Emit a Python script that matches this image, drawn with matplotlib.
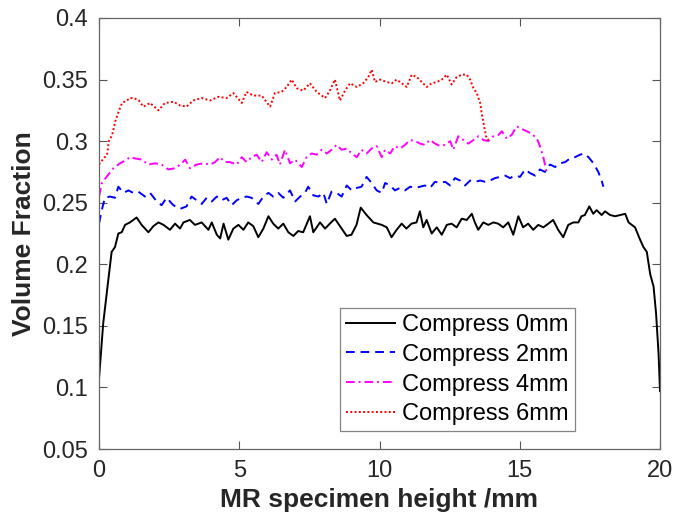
import matplotlib
matplotlib.use("Agg")
import matplotlib.pyplot as plt
from matplotlib.ticker import FuncFormatter

plt.rcParams["font.family"] = ["Liberation Sans", "DejaVu Sans"]

# Compress 0mm (solid black)
x0 = [0.0, 0.15, 0.33, 0.45, 0.57, 0.69, 0.81, 0.93, 1.10, 1.34, 1.52, 1.76, 1.94, 2.12, 2.30,
      2.53, 2.71, 2.89, 3.01, 3.24, 3.42, 3.66, 3.90, 4.02, 4.20, 4.32, 4.44, 4.61, 4.79, 4.97,
      5.15, 5.32, 5.50, 5.68, 5.86, 6.04, 6.21, 6.39, 6.57, 6.75, 6.93, 7.10, 7.28, 7.52, 7.64,
      7.88, 8.06, 8.23, 8.41, 8.59, 8.83, 9.00, 9.18, 9.33, 9.54, 9.78, 10.08, 10.26, 10.43,
      10.61, 10.79, 10.96, 11.14, 11.32, 11.44, 11.56, 11.68, 11.86, 12.04, 12.22, 12.40, 12.57,
      12.75, 12.93, 13.11, 13.29, 13.40, 13.52, 13.70, 13.88, 14.06, 14.23, 14.41, 14.59, 14.77,
      14.95, 15.12, 15.30, 15.48, 15.66, 15.84, 16.02, 16.19, 16.37, 16.55, 16.73, 16.91, 17.09,
      17.20, 17.32, 17.48, 17.62, 17.74, 17.92, 18.04, 18.22, 18.40, 18.58, 18.76, 18.88, 19.11,
      19.29, 19.41, 19.53, 19.65, 19.77, 19.86, 19.95, 20.00]
y0 = [0.107, 0.152, 0.187, 0.210, 0.214, 0.225, 0.226, 0.232, 0.234, 0.238, 0.232, 0.226, 0.231,
      0.234, 0.232, 0.228, 0.233, 0.229, 0.234, 0.236, 0.232, 0.234, 0.228, 0.234, 0.224, 0.221,
      0.233, 0.220, 0.229, 0.232, 0.228, 0.234, 0.231, 0.222, 0.229, 0.239, 0.233, 0.229, 0.233,
      0.226, 0.223, 0.227, 0.226, 0.239, 0.226, 0.234, 0.229, 0.233, 0.237, 0.231, 0.223, 0.224,
      0.232, 0.246, 0.240, 0.234, 0.232, 0.230, 0.222, 0.228, 0.233, 0.229, 0.233, 0.234, 0.243,
      0.230, 0.236, 0.225, 0.230, 0.224, 0.232, 0.233, 0.230, 0.237, 0.236, 0.241, 0.234, 0.228,
      0.234, 0.232, 0.234, 0.233, 0.230, 0.234, 0.224, 0.239, 0.230, 0.233, 0.228, 0.232, 0.230,
      0.233, 0.236, 0.228, 0.222, 0.232, 0.234, 0.234, 0.239, 0.240, 0.247, 0.241, 0.244, 0.240,
      0.243, 0.240, 0.239, 0.240, 0.241, 0.234, 0.230, 0.220, 0.214, 0.210, 0.192, 0.182, 0.160,
      0.127, 0.097]

# Compress 2mm (dashed blue)
x2 = [0.0, 0.10, 0.21, 0.39, 0.57, 0.69, 0.87, 1.05, 1.22, 1.40, 1.64, 1.82, 2.06, 2.23, 2.41,
      2.65, 2.89, 3.12, 3.30, 3.48, 3.66, 3.84, 4.02, 4.20, 4.37, 4.55, 4.73, 4.91, 5.09, 5.26,
      5.44, 5.68, 5.86, 6.04, 6.21, 6.39, 6.57, 6.81, 6.99, 7.17, 7.34, 7.46, 7.64, 7.82, 8.00,
      8.12, 8.29, 8.47, 8.65, 8.83, 9.01, 9.19, 9.36, 9.54, 9.72, 9.90, 10.08, 10.20, 10.38,
      10.55, 10.73, 10.91, 11.09, 11.27, 11.45, 11.62, 11.80, 11.98, 12.16, 12.34, 12.52, 12.69,
      12.87, 13.05, 13.23, 13.41, 13.59, 13.76, 13.94, 14.12, 14.30, 14.48, 14.65, 14.83, 15.01,
      15.19, 15.37, 15.55, 15.72, 15.90, 16.08, 16.26, 16.44, 16.62, 16.79, 16.97, 17.15, 17.29,
      17.45, 17.63, 17.80, 17.92, 17.98]
y2 = [0.233, 0.244, 0.254, 0.255, 0.254, 0.263, 0.258, 0.260, 0.258, 0.259, 0.255, 0.258, 0.251,
      0.248, 0.254, 0.248, 0.245, 0.247, 0.255, 0.252, 0.249, 0.254, 0.251, 0.255, 0.252, 0.254,
      0.248, 0.252, 0.254, 0.255, 0.254, 0.249, 0.255, 0.258, 0.255, 0.258, 0.254, 0.260, 0.251,
      0.255, 0.258, 0.263, 0.256, 0.255, 0.258, 0.249, 0.259, 0.258, 0.255, 0.264, 0.260, 0.262,
      0.263, 0.271, 0.266, 0.260, 0.258, 0.266, 0.264, 0.260, 0.262, 0.260, 0.263, 0.262, 0.263,
      0.264, 0.262, 0.267, 0.266, 0.267, 0.264, 0.270, 0.268, 0.264, 0.268, 0.267, 0.268, 0.267,
      0.268, 0.270, 0.271, 0.272, 0.270, 0.272, 0.271, 0.277, 0.274, 0.272, 0.277, 0.275, 0.281,
      0.279, 0.282, 0.283, 0.286, 0.287, 0.289, 0.290, 0.287, 0.282, 0.275, 0.268, 0.263]

# Compress 4mm (dash-dot magenta)
x4 = [0.0, 0.10, 0.27, 0.51, 0.75, 0.99, 1.10, 1.28, 1.52, 1.76, 2.00, 2.23, 2.47, 2.71, 2.95,
      3.07, 3.24, 3.48, 3.72, 3.96, 4.14, 4.31, 4.49, 4.67, 4.91, 5.09, 5.26, 5.44, 5.62, 5.80,
      5.98, 6.16, 6.33, 6.45, 6.63, 6.81, 6.99, 7.23, 7.40, 7.58, 7.76, 7.94, 8.12, 8.29, 8.47,
      8.65, 8.83, 9.01, 9.19, 9.36, 9.54, 9.72, 9.90, 10.08, 10.20, 10.38, 10.55, 10.73, 10.91,
      11.09, 11.27, 11.45, 11.62, 11.80, 11.98, 12.16, 12.34, 12.52, 12.63, 12.81, 12.99, 13.17,
      13.35, 13.53, 13.70, 13.88, 14.06, 14.24, 14.36, 14.54, 14.71, 14.89, 15.07, 15.25, 15.43,
      15.61, 15.72, 15.84, 15.96]
y4 = [0.255, 0.266, 0.271, 0.278, 0.282, 0.285, 0.287, 0.286, 0.285, 0.281, 0.282, 0.281, 0.277,
      0.278, 0.282, 0.285, 0.278, 0.281, 0.282, 0.281, 0.283, 0.287, 0.283, 0.283, 0.281, 0.287,
      0.283, 0.287, 0.289, 0.283, 0.291, 0.285, 0.289, 0.281, 0.293, 0.282, 0.285, 0.279, 0.287,
      0.290, 0.289, 0.293, 0.290, 0.293, 0.297, 0.293, 0.294, 0.290, 0.287, 0.293, 0.290, 0.294,
      0.296, 0.287, 0.293, 0.290, 0.296, 0.294, 0.297, 0.301, 0.300, 0.298, 0.297, 0.301, 0.298,
      0.296, 0.297, 0.300, 0.293, 0.304, 0.301, 0.298, 0.301, 0.304, 0.301, 0.300, 0.304, 0.305,
      0.308, 0.302, 0.305, 0.312, 0.310, 0.308, 0.306, 0.302, 0.296, 0.287, 0.275]

# Compress 6mm (dotted red)
x6 = [0.0, 0.17, 0.29, 0.35, 0.47, 0.58, 0.70, 0.82, 1.00, 1.10, 1.24, 1.42, 1.58, 1.82, 2.12,
      2.35, 2.65, 2.89, 3.12, 3.36, 3.66, 3.96, 4.25, 4.55, 4.79, 5.09, 5.26, 5.50, 5.80, 6.10,
      6.27, 6.51, 6.69, 6.87, 7.05, 7.28, 7.52, 7.76, 8.06, 8.23, 8.41, 8.59, 8.77, 8.95, 9.19,
      9.42, 9.60, 9.72, 9.84, 10.02, 10.26, 10.44, 10.61, 10.79, 10.97, 11.15, 11.33, 11.51,
      11.68, 11.86, 12.04, 12.22, 12.40, 12.57, 12.75, 12.93, 13.11, 13.23, 13.35, 13.47, 13.59,
      13.64, 13.73, 13.80, 13.85, 13.94]
y6 = [0.281, 0.286, 0.289, 0.300, 0.305, 0.316, 0.324, 0.331, 0.333, 0.335, 0.335, 0.333, 0.328,
      0.331, 0.325, 0.331, 0.332, 0.329, 0.328, 0.333, 0.335, 0.333, 0.336, 0.335, 0.339, 0.331,
      0.340, 0.337, 0.337, 0.328, 0.339, 0.340, 0.344, 0.350, 0.343, 0.341, 0.347, 0.340, 0.335,
      0.341, 0.350, 0.333, 0.341, 0.347, 0.344, 0.347, 0.352, 0.358, 0.348, 0.350, 0.348, 0.347,
      0.350, 0.347, 0.344, 0.354, 0.352, 0.348, 0.344, 0.347, 0.348, 0.350, 0.354, 0.346, 0.352,
      0.354, 0.354, 0.350, 0.343, 0.339, 0.331, 0.323, 0.312, 0.304, 0.301, 0.302]

labels = ["Compress 0mm", "Compress 2mm", "Compress 4mm", "Compress 6mm"]
x_ticks = [0, 5, 10, 15, 20]
y_ticks = [0.05, 0.1, 0.15, 0.2, 0.25, 0.3, 0.35, 0.4]

fig = plt.figure(figsize=(6.87, 5.2), dpi=100)
ax = fig.add_axes([99 / 687, 71 / 520, 561 / 687, 431 / 520])

ax.plot(x0, y0, color="black", lw=1.4, ls="-", label=labels[0])
ax.plot(x2, y2, color="#0000ff", lw=1.4, ls=(0, (4.5, 3)), label=labels[1])
ax.plot(x4, y4, color="#ff00ff", lw=1.4, ls=(0, (4.5, 2, 1, 2)), label=labels[2])
ax.plot(x6, y6, color="#ff0000", lw=1.4, ls=(0, (1, 1.2)), label=labels[3])

ax.set_xlim(0, 20)
ax.set_ylim(0.05, 0.4)
ax.set_xticks(x_ticks)
ax.set_yticks(y_ticks)
fmt = FuncFormatter(lambda v, _: f"{v:g}")
ax.xaxis.set_major_formatter(fmt)
ax.yaxis.set_major_formatter(fmt)
ax.tick_params(direction="in", length=6, width=0.8, color="#555555",
               labelsize=17, labelcolor="#262626", top=True, right=True, pad=8)
for side in ax.spines.values():
    side.set_color("#666666")
    side.set_linewidth(0.9)

ax.set_xlabel("MR specimen height /mm", fontsize=19, fontweight="bold", color="#262626", labelpad=4)
ax.set_ylabel("Volume Fraction", fontsize=19, fontweight="bold", color="#262626", labelpad=4)

leg = ax.legend(loc="upper right", bbox_to_anchor=(0.848, 0.327), fontsize=17,
                frameon=True, fancybox=False, handlelength=2.1, handletextpad=0.3,
                labelspacing=0.33, borderpad=0.25, borderaxespad=0.0)
leg.get_frame().set_edgecolor("#666666")
leg.get_frame().set_linewidth(0.9)

fig.savefig("out.png", dpi=100)
